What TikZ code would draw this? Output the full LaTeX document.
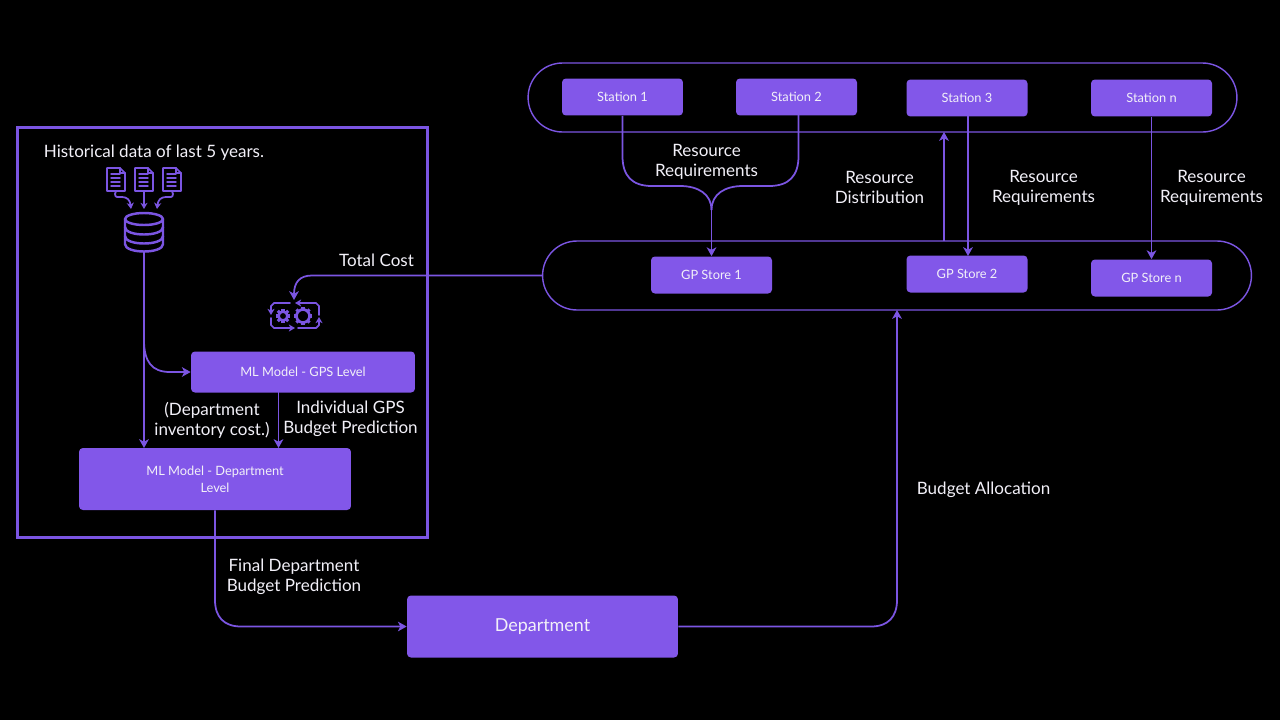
\documentclass[tikz,border=0pt]{standalone}
\usepackage{fontspec}
\usepackage{tikz}
\usetikzlibrary{arrows.meta}
\setmainfont{Lato}
\definecolor{boxPurple}{HTML}{8257E9}
\definecolor{linePurple}{HTML}{7B55E2}
\definecolor{softWhite}{HTML}{F2F0F8}
\tikzset{
	smallBox/.style={rectangle, fill=boxPurple, rounded corners=2.2pt, text=softWhite, align=center, inner sep=0pt, font=\fontsize{7.3}{9.6}\selectfont},
	pillBox/.style={rectangle, draw=linePurple, line width=0.8pt, rounded corners=0.69cm, minimum width=14.18cm, minimum height=1.38cm},
	flowLabel/.style={text=softWhite, align=center, inner sep=0pt, font=\fontsize{9.7}{11.4}\selectfont},
	flowLine/.style={draw=linePurple, line width=1pt, -{Stealth[length=5pt,width=5.5pt,inset=1.4pt]}},
	plainLine/.style={draw=linePurple, line width=1pt},
	iconLine/.style={draw=linePurple, line width=1pt, line cap=round, line join=round},
	iconArrow/.style={iconLine, -{Stealth[length=3.5pt,width=4pt,inset=1pt]}}
}
\begin{document}
\begin{tikzpicture}[x=0.02cm, y=-0.02cm]
		
		\fill[black] (0,0) rectangle (1280,720);
		\useasboundingbox (0,0) rectangle (1280,720);
		
		% Frames
		
		\node[rectangle, draw=linePurple, line width=1.7pt, minimum width=8.2cm, minimum height=8.2cm, inner sep=0pt]
		(historyFrame) at (222.5,332.5) {};
		
		\node[pillBox] (stationPill) at (882.5,97.5) {};
		
		\node[pillBox] (storePill) at (897,275.5) {};
		
		% Boxes
		
		\node[smallBox, minimum width=2.42cm, minimum height=0.74cm]
		(station1) at (622.5,97) {Station 1};
		
		\node[smallBox, minimum width=2.42cm, minimum height=0.74cm]
		(station2) at (796.5,97) {Station 2};
		
		\node[smallBox, minimum width=2.42cm, minimum height=0.74cm]
		(station3) at (967,98) {Station 3};
		
		\node[smallBox, minimum width=2.42cm, minimum height=0.74cm]
		(stationN) at (1151.5,98) {Station n};
		
		\node[smallBox, minimum width=2.42cm, minimum height=0.74cm]
		(store1) at (711.5,275) {GP Store 1};
		
		\node[smallBox, minimum width=2.42cm, minimum height=0.74cm]
		(store2) at (967,274) {GP Store 2};
		
		\node[smallBox, minimum width=2.42cm, minimum height=0.74cm]
		(storeN) at (1151.5,278) {GP Store n};
		
		\node[smallBox, minimum width=4.48cm, minimum height=0.82cm]
		(gpsModel) at (303,372) {ML Model - GPS Level};
		
		\node[smallBox, minimum width=5.44cm, minimum height=1.24cm]
		(deptModel) at (215,479) {ML Model - Department\\Level};
		
		\node[smallBox, minimum width=5.42cm, minimum height=1.24cm, font=\fontsize{10.2}{12}\selectfont]
		(department) at (542.5,626.5) {\raisebox{-2pt}{Department}};
		
		% Icon anchors
		
		\coordinate (dbBottom) at (144,251);
		\coordinate (gearIn) at (294,300);
		\coordinate (split) at (144,340);
		\coordinate (deptIn) at (144,448);
		\coordinate (gpsOut) at (278.5,392);
		\coordinate (gpsIn) at (278.5,448);
		\coordinate (station2Out) at (798.5,115);
		\coordinate (merge) at (711.5,210);
		\coordinate (distOut) at (944,241);
		\coordinate (distIn) at (944,132);
		\coordinate (store2Out) at (968,116);
		\coordinate (store2In) at (968,256);
		\coordinate (deptOut) at (897,310);
		
		% Connectors
		
		\draw[flowLine] (dbBottom) -- (deptIn);
		
		\draw[flowLine] (split) .. controls (144,362) and (152,372) .. (170,372) -- (gpsModel.west);
		
		\draw[flowLine] (gpsOut) -- (gpsIn);
		
		\draw[plainLine] (station1.south) -- (622.5,156) .. controls (622.5,176) and (632,186) .. (652,186) -- (680,186) .. controls (698,186) and (711.5,194) .. (merge);
		
		\draw[plainLine] (station2Out) -- (798.5,156) .. controls (798.5,176) and (789,186) .. (769,186) -- (743,186) .. controls (725,186) and (711.5,194) .. (merge);
		
		\draw[flowLine] (merge) -- (store1.north);
		
		\draw[flowLine] (distOut) -- (distIn);
		
		\draw[flowLine] (store2Out) -- (store2In);
		
		\draw[flowLine] (stationN.south) -- (storeN.north);
		
		\draw[flowLine] (storePill.west) -- (312,275.5) .. controls (300,275.5) and (294,282) .. (gearIn);
		
		\draw[flowLine] (deptModel.south) -- (215,600) .. controls (215,617) and (224,626.5) .. (241,626.5) -- (department.west);
		
		\draw[flowLine] (department.east) -- (871,626.5) .. controls (888,626.5) and (897,617) .. (897,600) -- (deptOut);
		
		% Document icons
		
		\foreach \docX/\docName in {116/docA,144/docB,172/docC}{
			\coordinate (\docName) at (\docX,191);
			\draw[iconLine] (\docX-9,168) -- (\docX+4,168) -- (\docX+9,173) -- (\docX+9,191) -- (\docX-9,191) -- cycle;
			\draw[iconLine] (\docX+4,168) -- (\docX+4,173) -- (\docX+9,173);
			\foreach \lineY in {174,178,182,186}
				\draw[iconLine, line width=0.8pt] (\docX-5,\lineY) -- (\docX+4,\lineY);
		}
		
		\draw[iconArrow] (docA) -- (115,194) .. controls (115,198) and (118,197) .. (122,197) .. controls (127,197) and (130,200) .. (131,209);
		
		\draw[iconArrow] (docB) -- (144,209);
		
		\draw[iconArrow] (docC) -- (173,194) .. controls (173,198) and (170,197) .. (166,197) .. controls (161,197) and (158,200) .. (157,209);
		
		% Database icon
		
		\draw[iconLine, line width=1.4pt] (125,219) -- (125,244) .. controls (125,254) and (163,254) .. (163,244) -- (163,219);
		\draw[iconLine, line width=1.4pt] (144,219) ellipse (19 and 6);
		\draw[iconLine, line width=1.4pt] (125,227) .. controls (125,237) and (163,237) .. (163,227);
		\draw[iconLine, line width=1.4pt] (125,236) .. controls (125,246) and (163,246) .. (163,236);
		
		% Gear icon
		
		\foreach \gearX/\gearR in {283/4.5,303/6.5}{
			\draw[iconLine, line width=1.5pt] (\gearX,316) circle (\gearR);
			\foreach \toothA in {0,45,...,315}
				\draw[draw=linePurple, line width=1.8pt] (\gearX,316) ++(\toothA:\gearR) -- ++(\toothA:2.8);
		}
		
		\draw[iconArrow] (319,315) -- (319,306) -- (316,303) -- (295,303);
		\draw[iconArrow] (290,303) -- (274,303) -- (271,306) -- (271,315);
		\draw[iconArrow] (271,318) -- (271,325) -- (274,328) -- (295,328);
		\draw[iconArrow] (298,328) -- (316,328) -- (319,325) -- (319,317);
		
		% Labels
		
		\node[flowLabel, anchor=west] (historyLabel) at (43.5,152.5) {Historical data of last 5 years.};
		\node[flowLabel] (reqLabel1) at (706.5,162) {Resource\\Requirements};
		\node[flowLabel] (distLabel) at (879.5,187.5) {Resource\\Distribution};
		\node[flowLabel] (reqLabel2) at (1043.5,188) {Resource\\Requirements};
		\node[flowLabel] (reqLabel3) at (1211.5,188) {Resource\\Requirements};
		\node[flowLabel] (costLabel) at (376.5,260.5) {Total Cost};
		\node[flowLabel] (inventoryLabel) at (212,420.5) {(Department\\inventory cost.)};
		\node[flowLabel] (gpsLabel) at (350.5,419) {Individual GPS\\Budget Prediction};
		\node[flowLabel] (finalLabel) at (294,576.5) {Final Department\\Budget Prediction};
		\node[flowLabel, anchor=west] (allocLabel) at (916.5,489.5) {Budget Allocation};
		
\end{tikzpicture}
\end{document}
